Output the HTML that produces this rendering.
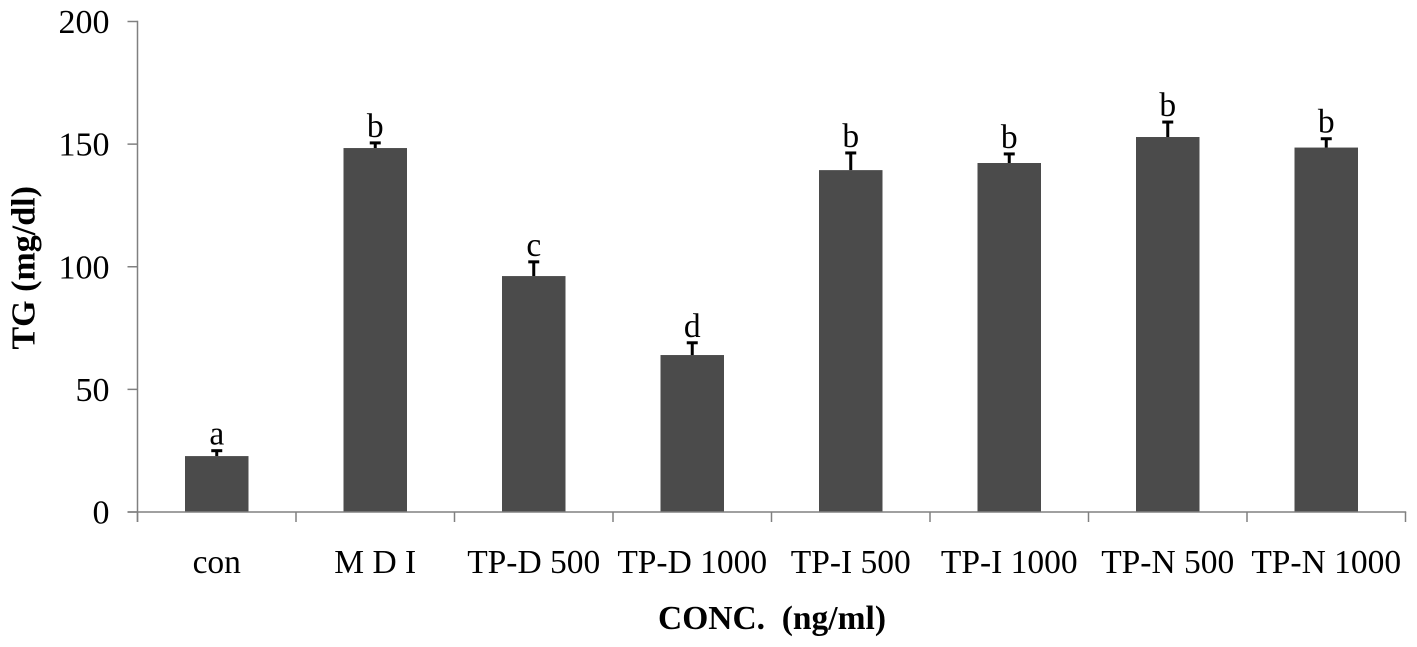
<!DOCTYPE html>
<html lang="en">
<head>
<meta charset="utf-8">
<title>TG by concentration</title>
<style>
html,body{margin:0;padding:0;background:#fff;width:1417px;height:647px;overflow:hidden}
svg{display:block}
text{font-family:"Liberation Serif",serif;fill:#000;white-space:pre}
</style>
</head>
<body>
<svg id="chart" width="1417" height="647" viewBox="0 0 1417 647" xmlns="http://www.w3.org/2000/svg">
  <text transform="translate(34.5,349.5) rotate(-90)" font-size="34" font-weight="bold">TG (mg/dl)</text>
  <text x="772" y="629" text-anchor="middle" font-size="33.5" font-weight="bold" xml:space="preserve">CONC.  (ng/ml)</text>
</svg>
<script>
const categories = ['con', 'M D I', 'TP-D 500', 'TP-D 1000', 'TP-I 500', 'TP-I 1000', 'TP-N 500', 'TP-N 1000'];
const values = [22.8, 148.4, 96.2, 64, 139.4, 142.3, 152.9, 148.6];
const errorTops = [25, 150.5, 102, 69, 146.4, 146, 159, 152.2];
const letters = ['a', 'b', 'c', 'd', 'b', 'b', 'b', 'b'];
const yTicks = [0, 50, 100, 150, 200];

const NS = 'http://www.w3.org/2000/svg';
const svg = document.getElementById('chart');
const plot = { left: 137.5, right: 1405.5, top: 21.5, bottom: 512 };
const yMax = 200;
const barWidth = 63.5;
const axisColor = '#808080';

function yScale(v) {
  return plot.bottom - (v / yMax) * (plot.bottom - plot.top);
}
function bandEdge(i) {
  return plot.left + i * (plot.right - plot.left) / categories.length;
}
function xCenter(i) {
  return (bandEdge(i) + bandEdge(i + 1)) / 2;
}
function make(tag, attrs, text) {
  const el = document.createElementNS(NS, tag);
  for (const k in attrs) el.setAttribute(k, attrs[k]);
  if (text !== undefined) el.textContent = text;
  svg.appendChild(el);
  return el;
}

values.forEach((v, i) => {
  const cx = xCenter(i);
  const bar = make('rect', { x: cx - barWidth / 2, y: yScale(v), width: barWidth, height: plot.bottom - yScale(v), fill: '#4b4b4b' });
  
  

  const stem = make('line', { x1: cx, x2: cx, y1: yScale(v), y2: yScale(errorTops[i]), stroke: '#000', 'stroke-width': 3 });
  
  

  const cap = make('line', { x1: cx - 5.5, x2: cx + 5.5, y1: yScale(errorTops[i]), y2: yScale(errorTops[i]), stroke: '#000', 'stroke-width': 3 });
  
  

  const sig = make('text', { x: cx, y: yScale(errorTops[i]) - 6, 'text-anchor': 'middle', 'font-size': 33.5 }, letters[i]);
  
  

  const label = make('text', { x: cx, y: 573, 'text-anchor': 'middle', 'font-size': 33.5 }, categories[i]);
  
  
});

const yAxis = make('line', { x1: plot.left, x2: plot.left, y1: plot.top - 0.7, y2: plot.bottom + 10, stroke: axisColor, 'stroke-width': 1.5 });



const xAxis = make('line', { x1: plot.left - 10, x2: plot.right + 0.7, y1: plot.bottom, y2: plot.bottom, stroke: axisColor, 'stroke-width': 1.5 });



yTicks.forEach((t) => {
  const tick = make('line', { x1: plot.left - 10, x2: plot.left, y1: yScale(t), y2: yScale(t), stroke: axisColor, 'stroke-width': 1.5 });
  
  

  const label = make('text', { x: 109.5, y: yScale(t) + 11.5, 'text-anchor': 'end', 'font-size': 34 }, String(t));
  
  
});

for (let i = 0; i <= categories.length; i++) {
  const tick = make('line', { x1: bandEdge(i), x2: bandEdge(i), y1: plot.bottom, y2: plot.bottom + 10, stroke: axisColor, 'stroke-width': 1.5 });
  
  
}
</script>
</body>
</html>
